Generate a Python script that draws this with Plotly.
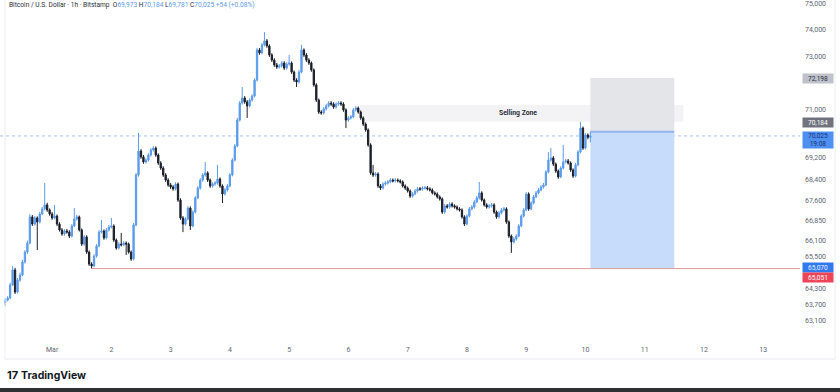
import plotly.graph_objects as go
import pandas as pd

# ---------------- data (BTC/USD, 1h, Bitstamp) ----------------
start_time = "2024-02-29 05:00"

open_px = [
63760, 63870, 63950, 64440, 65000, 64170, 64620, 64810, 65300, 65670,
66010, 66990, 66720, 66950, 66800, 67100, 67290, 67440, 67250, 67100,
66950, 67020, 66720, 66500, 66350, 66460, 66420, 66270, 66650, 66910,
66990, 66500, 65970, 66240, 65670, 65220, 65150, 65520, 65900, 66420,
66460, 66200, 66500, 66610, 66650, 66120, 65820, 65970, 65940, 66010,
65970, 65670, 65410, 66690, 68560, 69460, 69240, 69050, 69120, 69310,
69500, 69570, 69310, 69010, 68820, 68560, 68370, 68190, 68110, 68040,
68220, 67620, 66950, 66720, 66910, 67320, 66650, 67170, 67700, 68070,
68370, 68560, 68640, 68370, 68150, 68220, 68260, 68410, 68150, 67850,
68000, 68150, 68560, 69120, 69650, 70620, 71260, 71450, 71300, 71150,
71370, 71520, 72120, 73250, 73140, 73440, 73590, 73400, 73060, 72870,
72690, 72610, 72650, 72760, 72570, 72720, 72760, 72420, 72120, 72050,
72420, 73250, 73060, 72870, 72760, 72500, 71940, 71370, 70920, 70890,
71040, 71150, 71260, 71220, 71110, 71220, 71260, 71220, 71000, 70620,
70700, 70740, 71000, 71070, 70920, 70700, 70470, 70250, 69690, 68640,
68560, 68600, 68150, 68070, 68220, 68260, 68300, 68370, 68340, 68370,
68340, 68300, 68150, 68070, 67960, 67770, 67850, 67960, 68040, 68030,
68070, 68080, 68040, 68000, 67890, 67850, 67740, 67660, 67170, 67400,
67360, 67470, 67400, 67360, 67290, 67250, 66990, 66720, 67020, 67290,
67360, 67550, 67700, 67890, 67620, 67440, 67360, 67400, 67440, 67170,
66990, 67140, 67250, 67290, 66800, 66270, 66050, 66160, 66270, 66650,
67020, 67250, 67850, 67290, 67510, 67740, 67890, 68000, 68110, 68190,
68670, 69120, 69200, 68970, 68710, 68490, 68820, 69050, 69090, 69010,
68750, 68520, 68940, 69420, 70320, 69570, 70060, 69973
]

high_px = [
63950, 64020, 64520, 65150, 65080, 64700, 64900, 65380, 65740, 66100,
67100, 67060, 67020, 67010, 67180, 67360, 68260, 67520, 67310, 67170,
67440, 67080, 66790, 66570, 66530, 66540, 66490, 66720, 67320, 67070,
67040, 66560, 66310, 66300, 65730, 65290, 65590, 65970, 66490, 66870,
66520, 66570, 66690, 66950, 66710, 66180, 66040, 66390, 66080, 66070,
66030, 65730, 66760, 68640, 70140, 69530, 69310, 69190, 69380, 69570,
69640, 69630, 69370, 69080, 68890, 68630, 68440, 68260, 68180, 68290,
68280, 67690, 67020, 66980, 67390, 67380, 67240, 67770, 68140, 68440,
68630, 69050, 68700, 68430, 68290, 68330, 68940, 68470, 68210, 68070,
68220, 68630, 69190, 69720, 70700, 71340, 71860, 71520, 71370, 71440,
71590, 72190, 73330, 73320, 73510, 73920, 73660, 73460, 73130, 72940,
72760, 72720, 72830, 72830, 72790, 73060, 72820, 72480, 72190, 72490,
73440, 73310, 73130, 72940, 72820, 72560, 72000, 71430, 70990, 71110,
71220, 71330, 71330, 71290, 71290, 71330, 71330, 71290, 71060, 70770,
70810, 71070, 71140, 71130, 70980, 70760, 70530, 70310, 69750, 68940,
68670, 68660, 68220, 68290, 68330, 68370, 68440, 68430, 68440, 68430,
68400, 68360, 68210, 68130, 68020, 67920, 68030, 68110, 68110, 68140,
68150, 68150, 68100, 68060, 67950, 67910, 67800, 67720, 67470, 67470,
67540, 67540, 67460, 67420, 67350, 67310, 67050, 67090, 67360, 67430,
67620, 67770, 68300, 67950, 67680, 67500, 67470, 67510, 67500, 67230,
67210, 67320, 67360, 67350, 66860, 66330, 66230, 66340, 66720, 67090,
67320, 67920, 67910, 67580, 67810, 67960, 68070, 68180, 68260, 68740,
69420, 69570, 69270, 69030, 68770, 68890, 69690, 69160, 69160, 69070,
68810, 69010, 69490, 70550, 70380, 70130, 70120, 70184
]

low_px = [
63648, 63820, 63900, 64400, 64100, 64120, 64560, 64760, 65240, 65600,
65960, 66650, 66660, 65750, 66740, 67050, 67230, 67180, 67030, 66880,
66900, 66650, 66440, 66280, 66290, 66360, 66200, 66220, 66600, 66850,
66440, 65900, 65910, 65600, 65150, 65051, 65100, 65460, 65850, 66370,
66130, 66150, 66440, 66560, 66050, 65760, 65770, 65880, 65890, 65560,
65610, 65340, 65360, 66640, 68500, 69170, 68980, 68990, 69060, 69250,
69440, 69240, 68940, 68750, 68490, 68300, 68120, 68040, 67970, 67980,
67550, 66880, 66420, 66660, 66860, 66500, 66600, 67120, 67650, 68010,
68310, 68500, 68300, 68080, 68090, 68160, 68200, 68080, 67510, 67790,
67940, 68100, 68510, 69070, 69600, 70570, 71200, 71230, 70700, 71100,
71310, 71470, 72070, 73070, 73090, 73380, 73330, 72990, 72800, 72620,
72540, 72550, 72590, 72500, 72510, 72660, 72350, 72050, 71860, 71990,
72370, 72990, 72800, 72690, 72430, 71870, 71300, 70850, 70820, 70830,
70980, 71090, 71150, 71040, 71050, 71160, 71150, 70930, 70320, 70560,
70640, 70690, 70940, 70860, 70630, 70400, 70180, 69620, 68570, 68490,
68500, 68080, 68000, 68020, 68160, 68200, 68250, 68280, 68280, 68280,
68240, 68090, 68000, 67900, 67700, 67710, 67800, 67900, 67970, 67970,
68010, 67980, 67940, 67830, 67790, 67680, 67600, 67100, 67110, 67300,
67300, 67340, 67300, 67230, 67190, 66920, 66650, 66670, 66970, 67230,
67300, 67500, 67640, 67560, 67380, 67300, 67300, 67340, 67100, 66920,
66930, 67080, 67190, 66730, 66200, 65640, 65990, 66100, 66220, 66600,
66970, 67200, 67220, 67240, 67460, 67690, 67840, 67950, 68050, 68140,
68620, 69060, 68900, 68640, 68420, 68440, 68770, 68990, 68950, 68680,
68450, 68470, 68890, 69370, 69500, 69520, 69900, 69781
]

close_px = [
63870, 63950, 64440, 65000, 64170, 64620, 64810, 65300, 65670, 66010,
66990, 66720, 66950, 66800, 67100, 67290, 67440, 67250, 67100, 66950,
67020, 66720, 66500, 66350, 66460, 66420, 66270, 66650, 66910, 66990,
66500, 65970, 66240, 65670, 65220, 65150, 65520, 65900, 66420, 66460,
66200, 66500, 66610, 66650, 66120, 65820, 65970, 65940, 66010, 65970,
65670, 65410, 66690, 68560, 69460, 69240, 69050, 69120, 69310, 69500,
69570, 69310, 69010, 68820, 68560, 68370, 68190, 68110, 68040, 68220,
67620, 66950, 66720, 66910, 67320, 66650, 67170, 67700, 68070, 68370,
68560, 68640, 68370, 68150, 68220, 68260, 68410, 68150, 67850, 68000,
68150, 68560, 69120, 69650, 70620, 71260, 71450, 71300, 71150, 71370,
71520, 72120, 73250, 73140, 73440, 73590, 73400, 73060, 72870, 72690,
72610, 72650, 72760, 72570, 72720, 72760, 72420, 72120, 72050, 72420,
73250, 73060, 72870, 72760, 72500, 71940, 71370, 70920, 70890, 71040,
71150, 71260, 71220, 71110, 71220, 71260, 71220, 71000, 70620, 70700,
70740, 71000, 71070, 70920, 70700, 70470, 70250, 69690, 68640, 68560,
68600, 68150, 68070, 68220, 68260, 68300, 68370, 68340, 68370, 68340,
68300, 68150, 68070, 67960, 67770, 67850, 67960, 68040, 68030, 68070,
68080, 68040, 68000, 67890, 67850, 67740, 67660, 67170, 67400, 67360,
67470, 67400, 67360, 67290, 67250, 66990, 66720, 67020, 67290, 67360,
67550, 67700, 67890, 67620, 67440, 67360, 67400, 67440, 67170, 66990,
67140, 67250, 67290, 66800, 66270, 66050, 66160, 66270, 66650, 67020,
67250, 67850, 67290, 67510, 67740, 67890, 68000, 68110, 68190, 68670,
69120, 69200, 68970, 68710, 68490, 68820, 69050, 69090, 69010, 68750,
68520, 68940, 69420, 70320, 69570, 70060, 69973, 70025
]

# y-axis tick labels visible on the price scale
y_ticks = [75000, 74000, 73000, 71000, 69200, 68400,
           67600, 66850, 66100, 65500, 64300, 63700, 63100]
# x-axis day labels
x_tick_dates = ["2024-03-%02d" % d for d in range(1, 14)]
x_tick_text = ["Mar"] + [str(d) for d in range(2, 14)]

# drawing levels / zones (prices)
selling_zone = (70560, 71190)
stop_price = 72198
entry_price = 70184
target_price = 65070
support_price = 65051
last_price = 70025
countdown = "19:08"
selling_zone_time = ("2024-03-06 04:40", "2024-03-11 15:40")
position_end_time = "2024-03-11 12:00"
support_start_idx = 35

# ---------------- styles ----------------
UP = "#5b9bea"
DN = "#1b1e28"
AX_TXT = "#62656f"
FONT = "Roboto"

times = pd.date_range(start_time, periods=len(close_px), freq="h")
x_range = ["2024-02-29 02:54", "2024-03-13 14:54"]
y_range = [62373, 75123]

fig = go.Figure()
fig.add_trace(go.Candlestick(
    x=times, open=open_px, high=high_px, low=low_px, close=close_px,
    increasing=dict(line=dict(color=UP, width=1), fillcolor=UP),
    decreasing=dict(line=dict(color=DN, width=1), fillcolor=DN),
    whiskerwidth=0, hoverinfo="skip", showlegend=False,
))

shapes = []
# selling zone
shapes.append(dict(type="rect", xref="x", yref="y",
                   x0=selling_zone_time[0], x1=selling_zone_time[1],
                   y0=selling_zone[0], y1=selling_zone[1],
                   fillcolor="#f3f3f5", line=dict(width=0), layer="below"))
# short position tool: stop (grey) and target (blue)
shapes.append(dict(type="rect", xref="x", yref="y",
                   x0=times[-1], x1=position_end_time,
                   y0=entry_price, y1=stop_price,
                   fillcolor="#e4e5e8", line=dict(width=0), layer="below"))
shapes.append(dict(type="rect", xref="x", yref="y",
                   x0=times[-1], x1=position_end_time,
                   y0=target_price, y1=entry_price,
                   fillcolor="#c7dcfa", line=dict(width=0), layer="below"))
shapes.append(dict(type="line", xref="x", yref="y",
                   x0=times[-1], x1=position_end_time,
                   y0=entry_price, y1=entry_price,
                   line=dict(color="#8fb6ee", width=2), layer="below"))
# support line (red)
shapes.append(dict(type="line", xref="x", yref="y",
                   x0=times[support_start_idx], x1=x_range[1],
                   y0=support_price, y1=support_price,
                   line=dict(color="#e09a9c", width=1)))
# last price dotted line
shapes.append(dict(type="line", xref="paper", yref="y",
                   x0=0, x1=1, y0=last_price, y1=last_price,
                   line=dict(color="#a6c5f2", width=1, dash="dot"), layer="below"))
# panel frame lines
shapes.append(dict(type="line", xref="paper", yref="paper",
                   x0=5/800, x1=5/800, y0=1, y1=-19/340,
                   line=dict(color="#eceef2", width=1)))
shapes.append(dict(type="line", xref="paper", yref="paper",
                   x0=835/800, x1=835/800, y0=1, y1=-19/340,
                   line=dict(color="#eceef2", width=1)))
shapes.append(dict(type="line", xref="paper", yref="paper",
                   x0=5/800, x1=835/800, y0=-19/340, y1=-19/340,
                   line=dict(color="#e6e8ed", width=1)))
# dark bottom bar
shapes.append(dict(type="rect", xref="paper", yref="paper",
                   x0=0, x1=840/800, y0=-48/340, y1=-53/340,
                   fillcolor="#2f3033", line=dict(width=0)))

annotations = []
blue_txt = "#5b9bea"
title = ("Bitcoin / U.S. Dollar · 1h · Bitstamp  "
         f"O<span style='color:{blue_txt}'>69,973</span> "
         f"H<span style='color:{blue_txt}'>70,184</span> "
         f"L<span style='color:{blue_txt}'>69,781</span> "
         f"C<span style='color:{blue_txt}'>70,025</span> "
         f"<span style='color:{blue_txt}'>+54 (+0.08%)</span>")
annotations.append(dict(text=title, xref="paper", yref="paper",
                        x=7/800, y=1 - 5/340, xanchor="left", yanchor="middle",
                        showarrow=False, font=dict(family=FONT, size=6.6, color="#2a2e39")))
annotations.append(dict(text="<b>Selling Zone</b>", xref="x", yref="y",
                        x="2024-03-08 20:40", y=sum(selling_zone) / 2,
                        showarrow=False, font=dict(family=FONT, size=6.8, color="#2a2e39")))

def price_label(value_text, y, bg, fg, yshift=0, h=9):
    annotations.append(dict(text=value_text, xref="paper", yref="y",
                            x=1.0, xanchor="left", xshift=2, y=y, yshift=yshift,
                            showarrow=False, bgcolor=bg, width=30, height=h,
                            borderpad=0, align="center",
                            font=dict(family=FONT, size=6.6, color=fg)))

price_label(f"{stop_price:,}", stop_price, "#bfc2cb", "#2a2e39")
price_label(f"{entry_price:,}", entry_price, "#70737e", "#ffffff", yshift=9)
price_label(f"{last_price:,}<br>{countdown}", last_price, "#4f8ff0", "#163478", yshift=-4, h=16)
price_label(f"{target_price:,}", target_price, "#3179f0", "#e8f0ff", yshift=1)
price_label(f"{support_price:,}", support_price, "#ee4458", "#ffffff", yshift=-9)

# TradingView logo
annotations.append(dict(text="<b>17</b>", xref="paper", yref="paper",
                        x=5/800, y=-35/340, xanchor="left", yanchor="middle",
                        showarrow=False, font=dict(family="Inter", size=11, color="#131722")))
annotations.append(dict(text="<b>TradingView</b>", xref="paper", yref="paper",
                        x=19/800, y=-35/340, xanchor="left", yanchor="middle",
                        showarrow=False, font=dict(family="Inter", size=10.5, color="#131722")))

fig.update_layout(
    width=840, height=392,
    margin=dict(l=0, r=40, t=0, b=52),
    paper_bgcolor="white", plot_bgcolor="white",
    shapes=shapes, annotations=annotations,
    font=dict(family=FONT),
    xaxis=dict(type="date", range=x_range, showgrid=False, zeroline=False,
               showline=False, ticks="", tickvals=x_tick_dates, ticktext=x_tick_text,
               tickfont=dict(size=7, color=AX_TXT), ticklabelstandoff=4,
               rangeslider=dict(visible=False), fixedrange=True),
    yaxis=dict(side="right", range=y_range, showgrid=False, zeroline=False,
               showline=False, ticks="", tickvals=y_ticks,
               ticktext=[f"{v:,}" for v in y_ticks],
               tickfont=dict(size=7, color=AX_TXT), ticklabelstandoff=4,
               ticklabeloverflow="allow", fixedrange=True),
    boxgap=0.25,
)

fig.write_html("out.html")
